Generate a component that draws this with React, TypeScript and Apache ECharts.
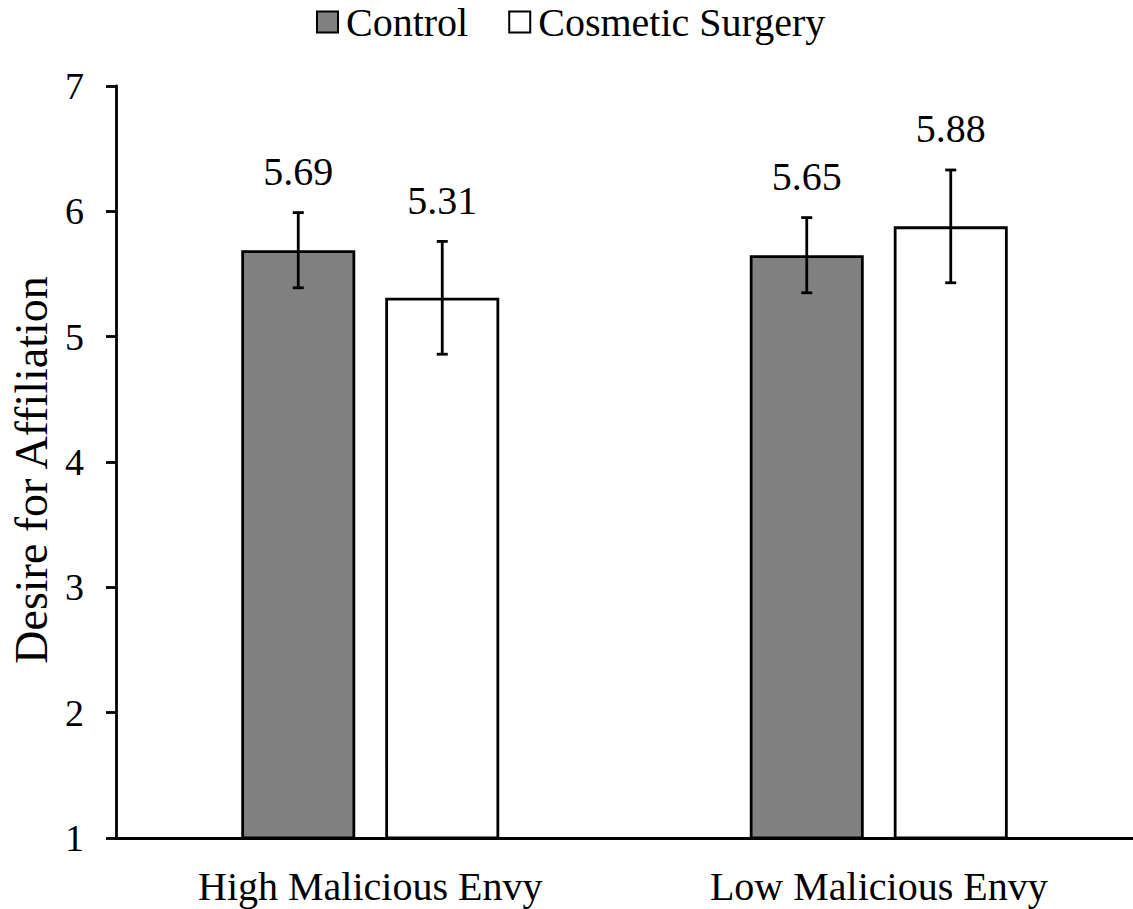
import React, { useEffect, useRef } from "react";
import * as echarts from "echarts";

// Group means and standard errors for desire for affiliation
const categories = ["High Malicious Envy", "Low Malicious Envy"];
const seriesNames = ["Control", "Cosmetic Surgery"];
const controlMeans = [5.69, 5.65];
const surgeryMeans = [5.31, 5.88];
const controlErrors = [0.3, 0.3];
const surgeryErrors = [0.45, 0.45];
const yTicks = [1, 2, 3, 4, 5, 6, 7];

const FONT = "'Liberation Serif', 'Times New Roman', serif";
const BAR_WIDTH = 114;
const BAR_GAP = 30;
const TICK_FONT = 38;
const TEXT_FONT = 40;
const TITLE_FONT = 46;

// Error bar + value label drawn over each bar, shifted to that bar's slot
function errorSeries(means: number[], errors: number[], offset: number) {
  return {
    type: "custom",
    coordinateSystem: "cartesian2d",
    z: 5,
    silent: true,
    data: means.map((m, i) => [i, m, errors[i]]),
    encode: { x: 0, y: 1 },
    renderItem: (_params: any, api: any) => {
      const idx = api.value(0);
      const mean = api.value(1);
      const err = api.value(2);
      const top = api.coord([idx, mean + err]);
      const bottom = api.coord([idx, mean - err]);
      const x = top[0] + offset;
      const cap = 5.5;
      const lineStyle = { stroke: "#000", lineWidth: 2.8 };
      return {
        type: "group",
        children: [
          { type: "line", shape: { x1: x, y1: top[1], x2: x, y2: bottom[1] }, style: lineStyle },
          { type: "line", shape: { x1: x - cap, y1: top[1], x2: x + cap, y2: top[1] }, style: lineStyle },
          { type: "line", shape: { x1: x - cap, y1: bottom[1], x2: x + cap, y2: bottom[1] }, style: lineStyle },
          {
            type: "text",
            style: {
              text: mean.toFixed(2),
              x,
              y: top[1] - 21,
              align: "center",
              verticalAlign: "bottom",
              fill: "#000",
              font: `${TEXT_FONT}px ${FONT}`,
            },
          },
        ],
      };
    },
  };
}

export default function App() {
  const ref = useRef<HTMLDivElement>(null);

  useEffect(() => {
    if (!ref.current) return;
    const chart = echarts.init(ref.current, undefined, { renderer: "svg" });
    const half = (BAR_WIDTH + BAR_GAP) / 2;
    chart.setOption({
      animation: false,
      backgroundColor: "#fff",
      textStyle: { fontFamily: FONT, color: "#000" },
      legend: {
        data: seriesNames,
        top: -3,
        left: 311,
        icon: "rect",
        itemWidth: 21,
        itemHeight: 21,
        itemGap: 40,
        textStyle: {
          fontFamily: FONT,
          fontSize: TEXT_FONT,
          color: "#000",
          padding: [0, 0, 0, 3],
        },
      },
      grid: { left: 113, right: 0, top: 86, bottom: 71 },
      xAxis: {
        type: "category",
        data: categories,
        axisLine: { lineStyle: { color: "#000", width: 2.8 } },
        axisTick: { show: false },
        axisLabel: { fontFamily: FONT, fontSize: TEXT_FONT, color: "#000", margin: 28 },
      },
      yAxis: {
        type: "value",
        min: yTicks[0],
        max: yTicks[yTicks.length - 1],
        interval: 1,
        name: "Desire for Affiliation",
        nameLocation: "middle",
        nameRotate: 90,
        nameGap: 62,
        nameTextStyle: {
          fontFamily: FONT,
          fontSize: TITLE_FONT,
          color: "#000",
          padding: [0, 16, 0, 0],
        },
        axisLine: { show: true, lineStyle: { color: "#000", width: 2.8 } },
        axisTick: { show: true, length: 10, lineStyle: { color: "#000", width: 2.8 } },
        splitLine: { show: false },
        axisLabel: { fontFamily: FONT, fontSize: TICK_FONT, color: "#000", margin: 32 },
      },
      series: [
        {
          name: seriesNames[0],
          type: "bar",
          data: controlMeans,
          barWidth: BAR_WIDTH,
          barGap: `${(BAR_GAP / BAR_WIDTH) * 100}%`,
          itemStyle: { color: "#808080", borderColor: "#000", borderWidth: 2.8 },
        },
        {
          name: seriesNames[1],
          type: "bar",
          data: surgeryMeans,
          barWidth: BAR_WIDTH,
          barGap: `${(BAR_GAP / BAR_WIDTH) * 100}%`,
          itemStyle: { color: "#ffffff", borderColor: "#000", borderWidth: 2.8 },
        },
        errorSeries(controlMeans, controlErrors, -half),
        errorSeries(surgeryMeans, surgeryErrors, half),
      ],
    });
    return () => chart.dispose();
  }, []);

  return (
    <div
      ref={ref}
      style={{ position: "fixed", left: 0, top: 0, width: 1133, height: 909, background: "#fff" }}
    />
  );
}
